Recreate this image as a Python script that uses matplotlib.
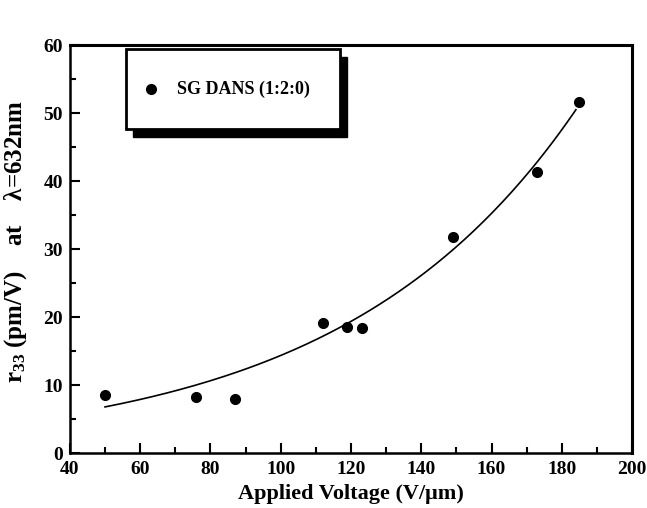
import numpy as np
import matplotlib
matplotlib.use('Agg')
import matplotlib.pyplot as plt
from matplotlib.patches import Rectangle
from matplotlib.ticker import MultipleLocator

voltage = [50, 76, 87, 112, 119, 123, 149, 173, 185]
r33 = [8.5, 8.3, 8.0, 19.1, 18.6, 18.4, 31.8, 41.4, 51.7]
series_label = 'SG DANS (1:2:0)'

plt.rcParams['font.family'] = ['Liberation Serif', 'DejaVu Serif']
plt.rcParams['font.weight'] = 'bold'
plt.rcParams['mathtext.fontset'] = 'custom'
plt.rcParams['mathtext.rm'] = 'Liberation Serif:bold'
plt.rcParams['mathtext.it'] = 'Liberation Serif:bold'
plt.rcParams['mathtext.bf'] = 'Liberation Serif:bold'

fig = plt.figure(figsize=(6.47, 5.08), dpi=100)
ax = fig.add_axes([0.108, 0.108, 0.869, 0.803])

# exponential fit through the points (weighted so it behaves like a plain least squares on y)
r = np.array(r33)
slope, icpt = np.polyfit(voltage, np.log(r), 1, w=r)
xf = np.linspace(50, 184, 200)
ax.plot(xf, np.exp(icpt + slope * xf), color='black', lw=1.2)

ax.plot(voltage, r33, 'o', color='black', ms=7, label=series_label)

ax.set_xlim(40, 200)
ax.set_ylim(0, 60)
ax.xaxis.set_major_locator(MultipleLocator(20))
ax.xaxis.set_minor_locator(MultipleLocator(10))
ax.yaxis.set_major_locator(MultipleLocator(10))
ax.yaxis.set_minor_locator(MultipleLocator(5))
ax.tick_params(which='both', direction='in', width=1.5, labelsize=14)
ax.tick_params(which='major', length=7)
ax.tick_params(which='minor', length=4)
ax.tick_params(axis='x', pad=6)
ax.tick_params(axis='y', pad=5)
for lab in ax.get_xticklabels() + ax.get_yticklabels():
    lab.set_fontweight('bold')
for side in ['left', 'bottom']:
    ax.spines[side].set_linewidth(1.8)
for side in ['top', 'right']:
    ax.spines[side].set_linewidth(2.2)

ax.set_xlabel('Applied Voltage (V/\u03bcm)', fontsize=16, fontweight='bold', labelpad=4)
ax.set_ylabel('r$_{33}$ (pm/V)    at    \u03bb=632nm', fontsize=18, fontweight='bold')
ax.yaxis.set_label_coords(-0.072, 0.52)

# boxed legend with a drop shadow
x0, y0, w, h = 0.1, 0.795, 0.38, 0.195
ax.add_patch(Rectangle((x0 + 0.013, y0 - 0.02), w, h, transform=ax.transAxes,
                       facecolor='black', edgecolor='black', zorder=4))
ax.add_patch(Rectangle((x0, y0), w, h, transform=ax.transAxes,
                       facecolor='white', edgecolor='black', lw=2, zorder=5))
ax.plot([x0 + 0.045], [y0 + h * 0.5], 'o', color='black', ms=7,
        transform=ax.transAxes, zorder=6, clip_on=False)
ax.text(x0 + 0.09, y0 + h * 0.5, series_label, transform=ax.transAxes,
        fontsize=13, fontweight='bold', va='center', ha='left', zorder=6)

fig.savefig('out.png', dpi=100)
